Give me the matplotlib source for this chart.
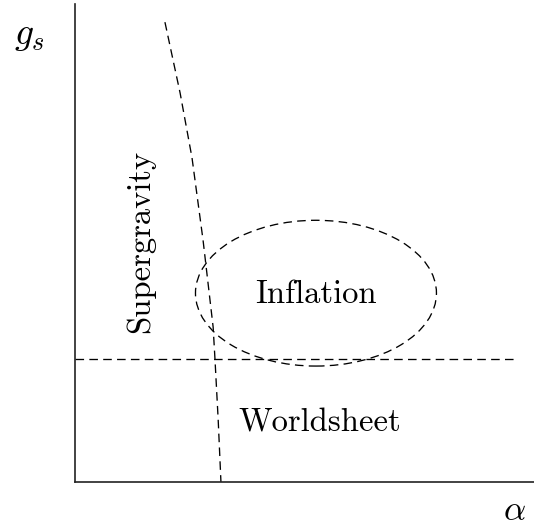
import matplotlib
matplotlib.use("Agg")
import matplotlib.pyplot as plt
from matplotlib.patches import Ellipse

plt.rcParams['mathtext.fontset'] = 'cm'
plt.rcParams['font.family'] = ['cmr10', 'DejaVu Serif']
plt.rcParams['axes.unicode_minus'] = False

# boundary curves (axes units)
diag_x = [0.196, 0.229, 0.255, 0.279, 0.301, 0.305, 0.312, 0.318]
diag_y = [0.962, 0.814, 0.678, 0.506, 0.324, 0.257, 0.130, 0.0]
horiz_x = [0.0, 0.959]
horiz_y = [0.257, 0.257]

# inflation region
ell_center = (0.525, 0.395)
ell_w = 0.525
ell_h = 0.305

labels = ["Inflation", "Worldsheet", "Supergravity"]
label_pos = [(0.525, 0.393), (0.534, 0.124), (0.142, 0.503)]
label_rot = [0, 0, 90]

fig = plt.figure(figsize=(5.34, 5.26), dpi=100)
ax = fig.add_axes([0.1404, 0.0837, 0.8596, 0.9087])
ax.set_xlim(0, 1)
ax.set_ylim(0, 1)
ax.spines['top'].set_visible(False)
ax.spines['right'].set_visible(False)
for s in ['left', 'bottom']:
    ax.spines[s].set_linewidth(1.2)
    ax.spines[s].set_color('#222222')
ax.set_xticks([])
ax.set_yticks([])

ls = (0, (6.5, 4.0))
ax.plot(diag_x, diag_y, color='black', lw=0.95, linestyle=ls)
ax.plot(horiz_x, horiz_y, color='black', lw=0.95, linestyle=ls)
ax.add_patch(Ellipse(ell_center, ell_w, ell_h, fill=False, edgecolor='black',
                     lw=0.95, linestyle=ls))

for txt, (x, y), r in zip(labels, label_pos, label_rot):
    ax.text(x, y, txt, fontsize=23.5, ha='center', va='center', rotation=r)

fig.text(0.056, 0.93, r'$g_s$', fontsize=27, ha='center', va='center')
fig.text(0.964, 0.028, r'$\alpha$', fontsize=25, ha='center', va='center')

fig.savefig('out.png', dpi=100)
